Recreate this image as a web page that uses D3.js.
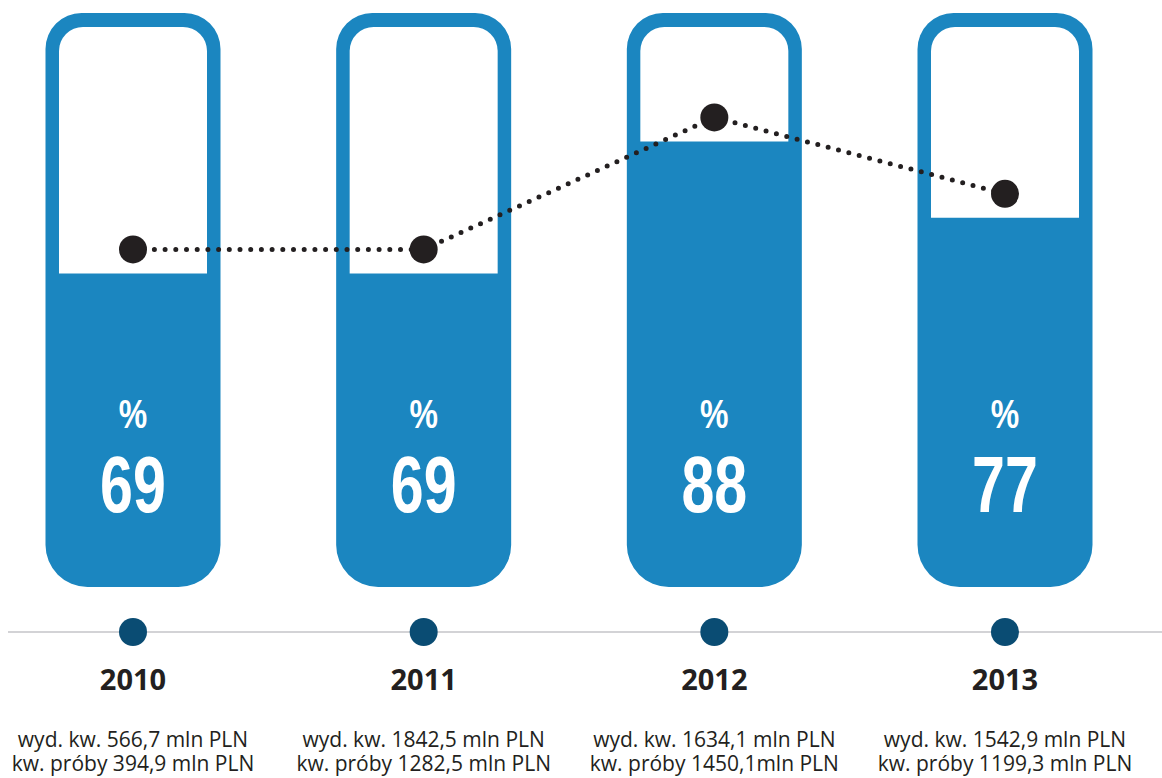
<!DOCTYPE html>
<html>
<head>
<meta charset="utf-8">
<script src="https://cdn.jsdelivr.net/npm/d3@7"></script>
<style>
  body { margin: 0; background: #fff; }
  svg { display: block; }
</style>
</head>
<body>
<div class="chart"></div>
<script>
// data
var years = ["2010", "2011", "2012", "2013"];
var percents = [69, 69, 88, 77];
var wydKw = ["566,7", "1842,5", "1634,1", "1542,9"];
var kwProby = ["394,9", "1282,5", "1450,1", "1199,3"];

var width = 1162, height = 778;
var blue = "#1b86c0", darkBlue = "#0a4c73", ink = "#231f20";

var barW = 175, border = 13.5, barTop = 13, barBottom = 587;

var svg = d3.select(".chart")
  .append("svg")
    .attr("width", width)
    .attr("height", height);

var x = d3.scalePoint()
  .domain(years)
  .range([133, 1005]);

// fill level of each tube
var y = d3.scaleLinear()
  .domain([0, 100])
  .range([753, 58]);

var data = years.map(function(d, i) {
  return { year: d, value: percents[i], wyd: wydKw[i], proby: kwProby[i] };
});

function tubePath(cx) {
  var l = cx - barW / 2, r = cx + barW / 2, rt = 36, rb = 42;
  return "M" + (l + rt) + "," + barTop +
    " H" + (r - rt) + " A" + rt + "," + rt + " 0 0 1 " + r + "," + (barTop + rt) +
    " V" + (barBottom - rb) + " A" + rb + "," + rb + " 0 0 1 " + (r - rb) + "," + barBottom +
    " H" + (l + rb) + " A" + rb + "," + rb + " 0 0 1 " + l + "," + (barBottom - rb) +
    " V" + (barTop + rt) + " A" + rt + "," + rt + " 0 0 1 " + (l + rt) + "," + barTop + " Z";
}

function emptyPath(d) {
  var cx = x(d.year);
  var l = cx - barW / 2 + border, r = cx + barW / 2 - border;
  var t = barTop + border + 0.5, b = y(d.value), ri = 24;
  return "M" + (l + ri) + "," + t +
    " H" + (r - ri) + " A" + ri + "," + ri + " 0 0 1 " + r + "," + (t + ri) +
    " V" + b + " H" + l + " V" + (t + ri) +
    " A" + ri + "," + ri + " 0 0 1 " + (l + ri) + "," + t + " Z";
}

var bars = svg.selectAll(".tube")
  .data(data)
  .enter().append("g")
    .attr("class", "tube");

bars.append("path")
  .attr("d", function(d) { return tubePath(x(d.year)); })
  .style("fill", blue);

bars.append("path")
  .attr("d", emptyPath)
  .style("fill", "#fff");

// condensed look: squeeze a bold sans horizontally
bars.append("text")
  .attr("transform", function(d) { return "translate(" + x(d.year) + ",428) scale(0.8,1)"; })
  .style("text-anchor", "middle")
  .style("font-family", "'Liberation Sans', Arial, sans-serif")
  .style("font-weight", "bold")
  .style("font-size", "40px")
  .style("fill", "#fff")
  .text("%");

bars.append("text")
  .attr("transform", function(d) { return "translate(" + x(d.year) + ",512) scale(0.74,1)"; })
  .style("text-anchor", "middle")
  .style("font-family", "'Liberation Sans', Arial, sans-serif")
  .style("font-weight", "bold")
  .style("font-size", "80px")
  .style("fill", "#fff")
  .text(function(d) { return d.value; });

// dotted trend line
var line = d3.line()
  .x(function(d) { return x(d.year); })
  .y(function(d) { return y(d.value) - 24; });

svg.append("path")
  .datum(data)
  .attr("d", line)
  .style("fill", "none")
  .style("stroke", ink)
  .style("stroke-width", 5)
  .style("stroke-linecap", "round")
  .style("stroke-dasharray", "0 10.7");

svg.selectAll(".point")
  .data(data)
  .enter().append("circle")
    .attr("class", "point")
    .attr("cx", function(d) { return x(d.year); })
    .attr("cy", function(d) { return y(d.value) - 24; })
    .attr("r", 14)
    .style("fill", ink);

// timeline
svg.append("line")
  .attr("x1", 8).attr("x2", width)
  .attr("y1", 632).attr("y2", 632)
  .style("stroke", "#c4c4c8")
  .style("stroke-width", 1.5);

svg.selectAll(".tick-dot")
  .data(data)
  .enter().append("circle")
    .attr("class", "tick-dot")
    .attr("cx", function(d) { return x(d.year); })
    .attr("cy", 632)
    .attr("r", 14)
    .style("fill", darkBlue);

svg.selectAll(".year")
  .data(data)
  .enter().append("text")
    .attr("class", "year")
    .attr("x", function(d) { return x(d.year); })
    .attr("y", 690)
    .style("text-anchor", "middle")
    .style("font-family", "'Open Sans', sans-serif")
    .style("font-weight", "bold")
    .style("font-size", "29px")
    .style("fill", ink)
    .text(function(d) { return d.year; });

var notes = svg.selectAll(".note")
  .data(data)
  .enter().append("text")
    .attr("class", "note")
    .style("text-anchor", "middle")
    .style("font-family", "'Open Sans', sans-serif")
    .style("font-size", "21px")
    .style("fill", ink);

notes.append("tspan")
  .attr("x", function(d) { return x(d.year); })
  .attr("y", 747)
  .text(function(d) { return "wyd. kw. " + d.wyd + " mln PLN"; });

notes.append("tspan")
  .attr("x", function(d) { return x(d.year); })
  .attr("y", 771)
  .text(function(d) { return "kw. próby " + d.proby + (d.year === "2012" ? "mln PLN" : " mln PLN"); });
</script>
</body>
</html>
